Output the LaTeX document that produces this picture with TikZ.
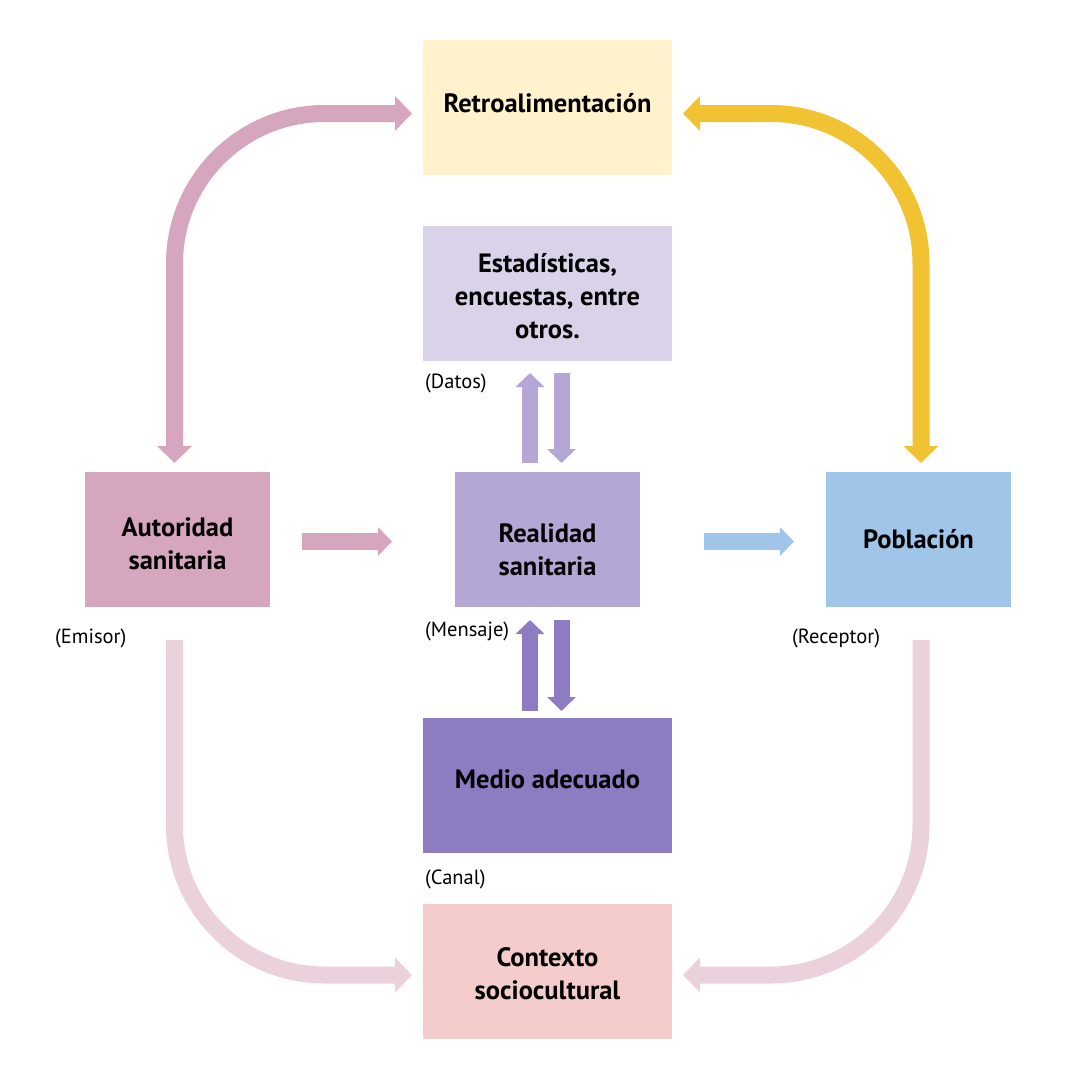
\documentclass[tikz,border=0pt]{standalone}
\usepackage{fontspec}
\setmainfont{PT Sans}
\usetikzlibrary{arrows.meta}
\definecolor{cRetro}{HTML}{FFF2CC}
\definecolor{cEsta}{HTML}{D9D2E9}
\definecolor{cAuto}{HTML}{D5A6BD}
\definecolor{cReal}{HTML}{B4A7D6}
\definecolor{cPob}{HTML}{9FC5E8}
\definecolor{cMedio}{HTML}{8E7CC3}
\definecolor{cCtx}{HTML}{F4CCCC}
\definecolor{cLight}{HTML}{EAD1DC}
\definecolor{cYel}{HTML}{F1C232}
\tikzset{
  box/.style={inner sep=0pt},
  wide/.style={box, minimum width=249pt, minimum height=135pt},
  narrow/.style={box, minimum width=185pt, minimum height=135pt},
  txt/.style={inner sep=0pt, align=center, text=black,
    font=\bfseries\fontsize{26.5}{33}\selectfont},
  lbl/.style={inner sep=0pt, anchor=west, font=\fontsize{20.5}{22}\selectfont},
  bigarrow/.style={line width=17pt, -{Triangle[width=34pt,length=17pt]}, rounded corners=150pt},
  bigdouble/.style={line width=17pt, {Triangle[width=34pt,length=17pt]}-{Triangle[width=34pt,length=17pt]}, rounded corners=150pt},
  smallarrow/.style={line width=17pt, -{Triangle[width=28pt,length=14pt]}},
}
\begin{document}
\begin{tikzpicture}[x=1pt,y=-1pt]
\useasboundingbox (0,0) rectangle (1080,1080);
% boxes
\node[wide, fill=cRetro] (retro) at (547.5,107.5) {};
\node[wide, fill=cEsta] (esta) at (547.5,293.5) {};
\node[narrow, fill=cAuto] (auto) at (177.5,539.5) {};
\node[narrow, fill=cReal] (real) at (547.5,539.5) {};
\node[narrow, fill=cPob] (pob) at (918.5,539.5) {};
\node[wide, fill=cMedio] (medio) at (547.5,785.5) {};
\node[wide, fill=cCtx] (ctx) at (547.5,971.5) {};
% texts
\node[txt] (tretro) at ([yshift=4pt]retro.center) {Retroalimentación};
\node[txt] (testa) at ([yshift=-3pt]esta.center) {Estadísticas,\\encuestas, entre\\otros.};
\node[txt] (tauto) at ([yshift=-4pt]auto.center) {Autoridad\\sanitaria};
\node[txt] (treal) at ([yshift=-10pt]real.center) {Realidad\\sanitaria};
\node[txt] (tpob) at (pob.center) {Población};
\node[txt] (tmedio) at ([yshift=6pt]medio.center) {Medio adecuado};
\node[txt] (tctx) at ([yshift=-2pt]ctx.center) {Contexto\\sociocultural};
% labels
\node[lbl] (ldatos) at (425,383) {(Datos)};
\node[lbl] (lemisor) at (55,638) {(Emisor)};
\node[lbl] (lmensaje) at (425,631) {(Mensaje)};
\node[lbl] (lreceptor) at (792,638) {(Receptor)};
\node[lbl] (lcanal) at (425,879) {(Canal)};
% coordinates for arrow ends
\coordinate (autoTop) at (174.5,463);
\coordinate (retroL) at (412,113.5);
\coordinate (pobTop) at (921,463);
\coordinate (retroR) at (683,113.5);
\coordinate (autoBot) at (174.5,640);
\coordinate (ctxL) at (412,975);
\coordinate (pobBot) at (921,640);
\coordinate (ctxR) at (683,975);
% big curved arrows
\draw[bigdouble, draw=cAuto] (autoTop) |- (retroL);
\draw[bigdouble, draw=cYel] (pobTop) |- (retroR);
\draw[bigarrow, draw=cLight] (autoBot) |- (ctxL);
\draw[bigarrow, draw=cLight] (pobBot) |- (ctxR);
% small arrows
\coordinate (a1) at (302,541.5); \coordinate (a2) at (392,541.5);
\coordinate (b1) at (704,541.5); \coordinate (b2) at (794,541.5);
\coordinate (c1) at (530,463);   \coordinate (c2) at (530,373);
\coordinate (d1) at (561.5,373); \coordinate (d2) at (561.5,463);
\coordinate (e1) at (530,711);   \coordinate (e2) at (530,620);
\coordinate (f1) at (561.5,620); \coordinate (f2) at (561.5,711);
\draw[smallarrow, draw=cAuto] (a1) -- (a2);
\draw[smallarrow, draw=cPob] (b1) -- (b2);
\draw[smallarrow, draw=cReal, line width=16pt] (c1) -- (c2);
\draw[smallarrow, draw=cReal, line width=16pt] (d1) -- (d2);
\draw[smallarrow, draw=cMedio, line width=16pt] (e1) -- (e2);
\draw[smallarrow, draw=cMedio, line width=16pt] (f1) -- (f2);
\end{tikzpicture}
\end{document}
